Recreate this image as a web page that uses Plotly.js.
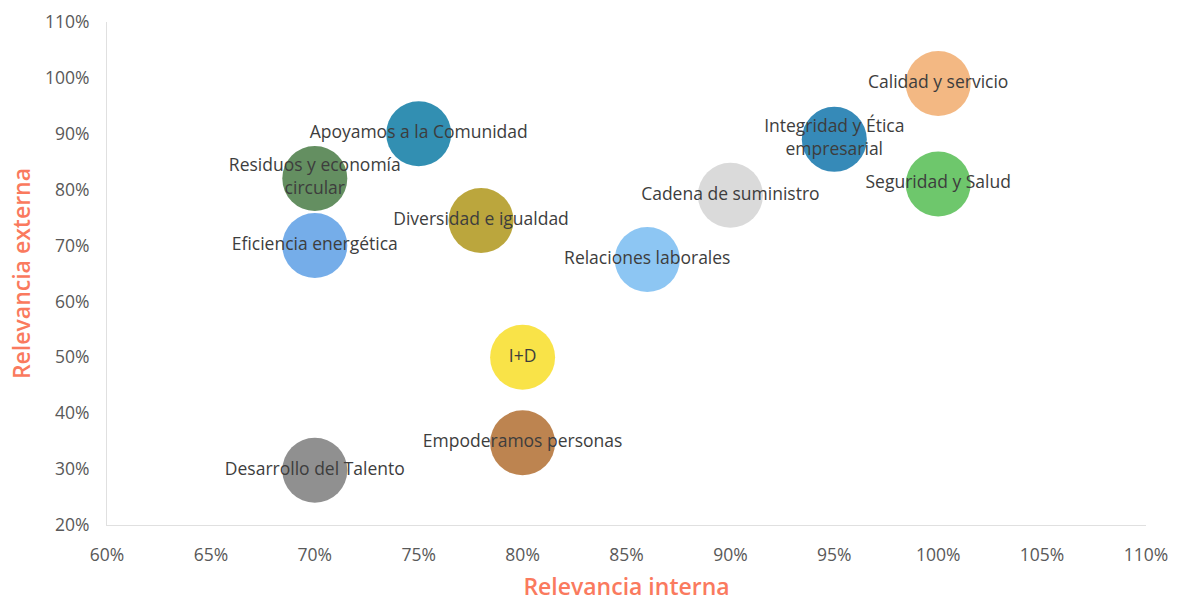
<!DOCTYPE html>
<html>
<head>
<meta charset="utf-8">
<script src="https://cdn.plot.ly/plotly-3.0.1.min.js"></script>
<style>html,body{margin:0;padding:0;background:#fff;}#chart{width:1179px;height:602px;}</style>
</head>
<body>
<div id="chart"></div>
<script>
const labels = [
  "Calidad y servicio",
  "Integridad y Ética<br>empresarial",
  "Seguridad y Salud",
  "Cadena de suministro",
  "Relaciones laborales",
  "Apoyamos a la Comunidad",
  "Diversidad e igualdad",
  "Residuos y economía<br>circular",
  "Eficiencia energética",
  "I+D",
  "Empoderamos personas",
  "Desarrollo del Talento"
];
const internalRel = [1.00, 0.95, 1.00, 0.90, 0.86, 0.75, 0.78, 0.70, 0.70, 0.80, 0.80, 0.70];
const externalRel = [0.99, 0.89, 0.81, 0.79, 0.675, 0.90, 0.745, 0.82, 0.70, 0.50, 0.347, 0.298];
const colors = ["#F2B47C", "#2B84B4", "#66C464", "#D8D8D8", "#87C3F2", "#2789AE", "#B7A133", "#5C8959", "#6EA9E8", "#F9E13E", "#B97D47", "#8A8A8A"];
const xTicks = [0.60, 0.65, 0.70, 0.75, 0.80, 0.85, 0.90, 0.95, 1.00, 1.05, 1.10];
const yTicks = [0.20, 0.30, 0.40, 0.50, 0.60, 0.70, 0.80, 0.90, 1.00, 1.10];

const trace = {
  type: "scatter",
  mode: "markers+text",
  x: internalRel,
  y: externalRel,
  text: labels,
  textposition: "middle center",
  textfont: {family: "Open Sans, sans-serif", size: 17.5, color: "#3d3d3d"},
  marker: {size: 65, color: colors, opacity: 0.95, line: {width: 0}},
  hoverinfo: "text"
};

const layout = {
  width: 1179,
  height: 602,
  margin: {l: 107, r: 33, t: 22, b: 77},
  paper_bgcolor: "#ffffff",
  plot_bgcolor: "#ffffff",
  showlegend: false,
  font: {family: "Open Sans, sans-serif", color: "#595959"},
  xaxis: {
    range: [0.60, 1.10],
    tickvals: xTicks,
    tickformat: ".0%",
    showgrid: false,
    zeroline: false,
    showline: true,
    linecolor: "#E0E0E0",
    linewidth: 1,
    ticks: "",
    ticklabelstandoff: 14,
    tickfont: {size: 17.5, color: "#595959"},
    title: {text: "Relevancia interna", font: {size: 23, color: "#FA7A5E", weight: 600}, standoff: 19}
  },
  yaxis: {
    range: [0.20, 1.10],
    tickvals: yTicks,
    tickformat: ".0%",
    showgrid: false,
    zeroline: false,
    showline: true,
    linecolor: "#E0E0E0",
    linewidth: 1,
    ticks: "",
    ticklabelstandoff: 13,
    tickfont: {size: 17.5, color: "#595959"},
    title: {text: "Relevancia externa", font: {size: 23, color: "#FA7A5E", weight: 600}, standoff: 7}
  }
};

Plotly.newPlot("chart", [trace], layout, {displayModeBar: false, staticPlot: true});
</script>
</body>
</html>
